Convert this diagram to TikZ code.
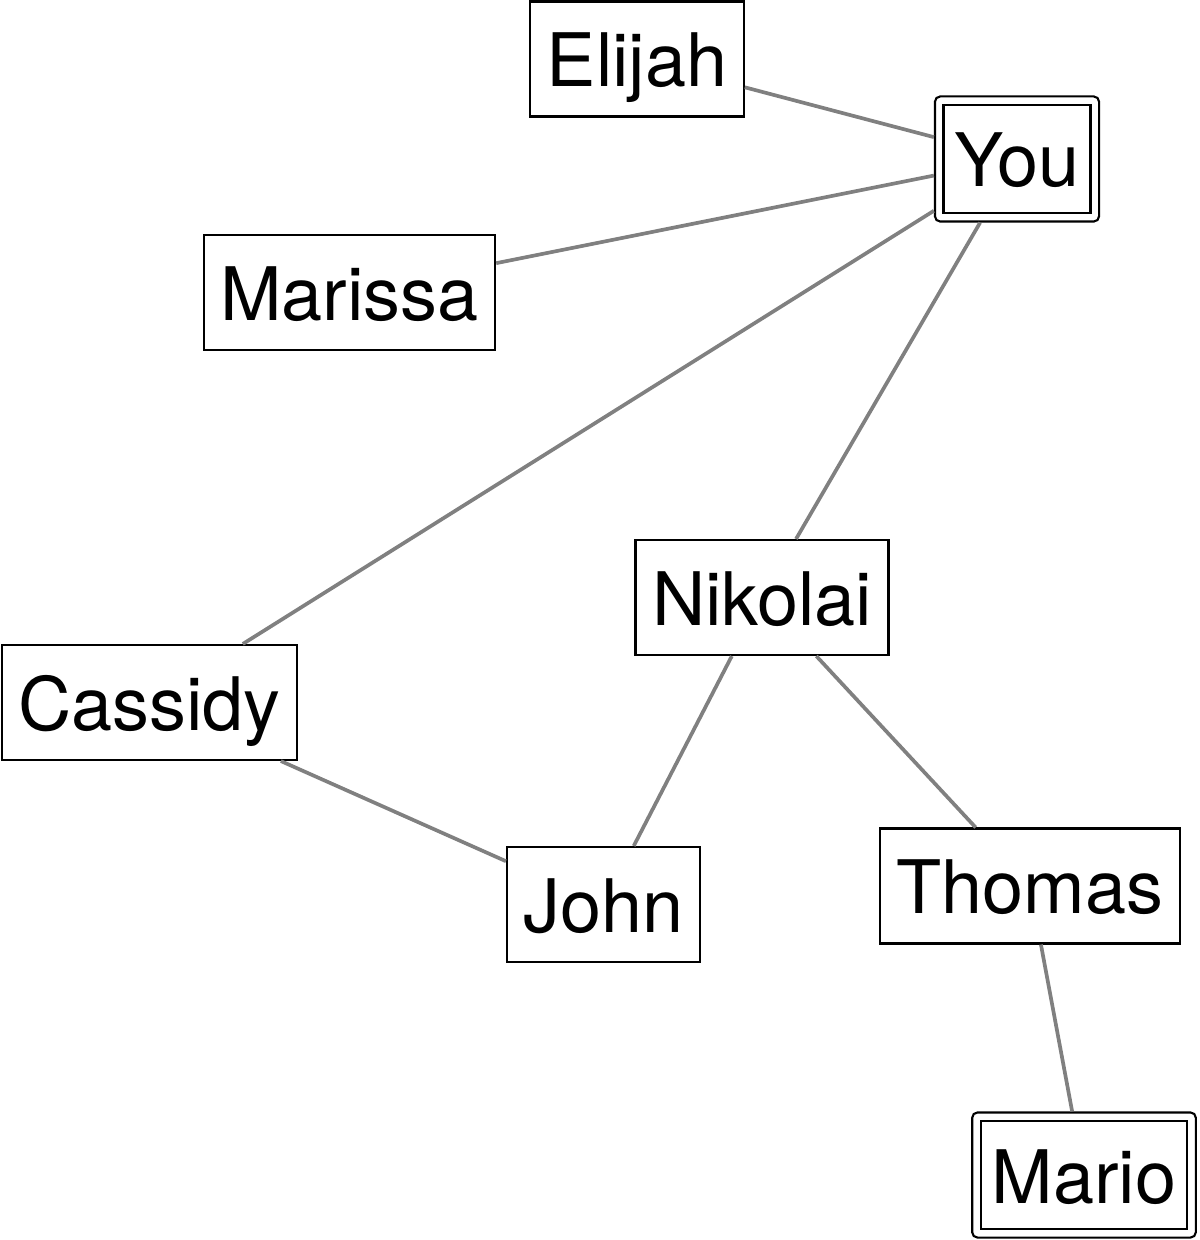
\documentclass[tikz,border=0pt]{standalone}
\usepackage{fontspec}
\setmainfont{TeX Gyre Heros}
\usetikzlibrary{fit}
\definecolor{edgegray}{RGB}{128, 128, 128}

\begin{document}
\begin{tikzpicture}[
      nd/.style={draw=black, line width=1.2pt, fill=white, inner ysep=0.4cm,
                 text height=1.3cm, text depth=0.2cm,
                 inner xsep=0.33cm, font=\fontsize{42}{50}\selectfont},
      ndin/.style={nd, text height=1.24cm, text depth=0.12cm, inner xsep=0.22cm},
      ndout/.style={draw=black, line width=1.2pt, rounded corners=3pt, inner sep=0.15cm},
      ln/.style={draw=edgegray, line width=2.1pt}]
      \useasboundingbox (0,0) rectangle (24,-24.8);
      \node[nd] (elijah)  at (12.74,-1.18)  {Elijah};
      \node[ndin] (you)   at (20.34,-3.18)  {You};
      \node[ndout, fit=(you)] (youbox) {};
      \node[nd] (marissa) at (6.99,-5.85)   {Marissa};
      \node[nd] (nikolai) at (15.24,-11.95) {Nikolai};
      \node[nd] (cassidy) at (2.99,-14.05)  {Cassidy};
      \node[nd] (john)    at (12.07,-18.09) {John};
      \node[nd] (thomas)  at (20.6,-17.72)  {Thomas};
      \node[ndin] (mario) at (21.68,-23.5)  {Mario};
      \node[ndout, fit=(mario)] (mariobox) {};
      % friendships
      \draw[ln] (elijah)--(youbox); \draw[ln] (marissa)--(youbox);
      \draw[ln] (cassidy)--(youbox); \draw[ln] (nikolai)--(youbox);
      \draw[ln] (nikolai)--(john); \draw[ln] (nikolai)--(thomas);
      \draw[ln] (cassidy)--(john); \draw[ln] (thomas)--(mariobox);
    \end{tikzpicture}
\end{document}
